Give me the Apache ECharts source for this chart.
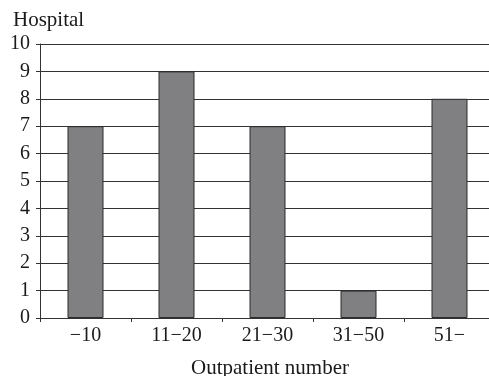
<!DOCTYPE html>
<html>
<head>
<meta charset="utf-8">
<script src="https://cdn.jsdelivr.net/npm/echarts@6/dist/echarts.min.js"></script>
<style>
  html, body { margin: 0; padding: 0; background: #fff; }
  #chart { width: 489px; height: 376px; }
</style>
</head>
<body>
<div id="chart"></div>
<script>
// Number of hospitals by daily outpatient count
const categories = ['\u221210', '11\u221220', '21\u221230', '31\u221250', '51\u2212'];
const hospitals = [7, 9, 7, 1, 8];
const yMin = 0;
const yMax = 10;
const yStep = 1;

const serif = '"Liberation Serif", "DejaVu Serif", serif';
const chart = echarts.init(document.getElementById('chart'));

chart.setOption({
  animation: false,
  grid: {
    left: 40, top: 44, width: 455, height: 274,
    containLabel: false, outerBoundsMode: 'none'
  },
  title: {
    text: 'Hospital',
    left: 8, top: 5,
    textStyle: { fontFamily: serif, fontSize: 21, fontWeight: 'normal', color: '#1a1a1a' }
  },
  xAxis: {
    type: 'category',
    data: categories,
    name: 'Outpatient number',
    nameLocation: 'middle',
    nameGap: 40,
    nameTextStyle: { fontFamily: serif, fontSize: 21, color: '#1a1a1a', padding: [0, 0, 0, 5] },
    axisLine: { lineStyle: { color: '#333', width: 1 } },
    axisTick: { show: true, inside: false, length: 4, alignWithLabel: false, lineStyle: { color: '#333' } },
    axisLabel: { fontFamily: serif, fontSize: 20, color: '#1a1a1a', margin: 8 }
  },
  yAxis: {
    type: 'value',
    min: yMin, max: yMax, interval: yStep,
    axisLine: { show: true, lineStyle: { color: '#333', width: 1 } },
    axisTick: { show: true, length: 4, lineStyle: { color: '#333' } },
    axisLabel: { fontFamily: serif, fontSize: 20, color: '#1a1a1a', margin: 10 },
    splitLine: { show: true, lineStyle: { color: '#333', width: 1 } }
  },
  series: [{
    type: 'bar',
    data: hospitals,
    barWidth: 36,
    itemStyle: { color: '#808083', borderColor: '#2a2a2a', borderWidth: 1 }
  }]
});
</script>
</body>
</html>
